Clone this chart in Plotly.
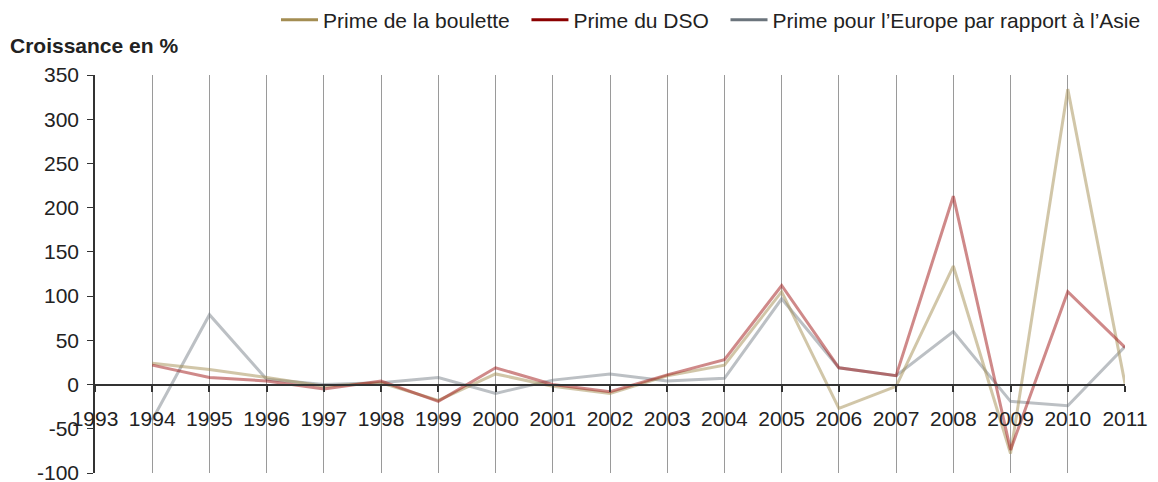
import plotly.graph_objects as go

years = list(range(1994, 2012))
boulette = [24, 17, 8, -2, 2, -18, 12, -2, -10, 10, 22, 105, -27, -2, 134, -78, 334, 1]
dso = [22, 8, 4, -5, 4, -19, 19, 0, -8, 11, 28, 112, 19, 10, 213, -74, 105, 42]
europe = [-40, 79, 6, 0, 2, 8, -10, 5, 12, 4, 7, 97, 19, 10, 60, -19, -24, 43]

names = ["Prime de la boulette", "Prime du DSO", "Prime pour l’Europe par rapport à l’Asie"]
solid = ["#a38d52", "#8b0000", "#6b747c"]
faded = ["rgba(163,141,82,0.5)", "rgba(160,20,20,0.5)", "rgba(107,116,124,0.45)"]

x_ticks = list(range(1993, 2012))
y_ticks = list(range(-100, 351, 50))
y_min, y_max = -100, 350

fig = go.Figure()
for idx in [2, 0, 1]:
    vals = [boulette, dso, europe][idx]
    fig.add_trace(go.Scatter(x=years, y=vals, mode="lines", showlegend=False,
                             line=dict(color=faded[idx], width=3)))
for idx in range(3):
    label = names[idx] + ("\u00a0\u00a0" if idx < 2 else "")
    fig.add_trace(go.Scatter(x=[None], y=[None], mode="lines", name=label,
                             line=dict(color=solid[idx], width=3)))

W, H = 1150, 474  # page body has an 8px margin
font = "Liberation Sans, Arial, sans-serif"
fig.update_layout(
    width=W, height=H,
    margin=dict(l=87, r=33, t=67, b=9, autoexpand=False),
    plot_bgcolor="white", paper_bgcolor="white",
    font=dict(family=font, size=21, color="#222"),
    title=dict(text="<b>Croissance en %</b>", xref="container", yref="container",
               x=2/W, y=1-38/H, xanchor="left", yanchor="middle",
               font=dict(family=font, size=21, color="#222")),
    legend=dict(orientation="h", xref="container", yref="container",
                x=268/W, y=1-12/H, xanchor="left", yanchor="middle",
                font=dict(family=font, size=21, color="#222"),
                itemwidth=37, tracegroupgap=0),
    xaxis=dict(range=[1993, 2011], tickvals=x_ticks, ticktext=[str(v) for v in x_ticks],
               showgrid=True, gridcolor="#9a9a9a", gridwidth=1,
               showline=True, linecolor="#333", linewidth=2,
               ticks="outside", ticklen=6, tickcolor="#333", tickwidth=2,
               anchor="free", position=(0 - y_min) / (y_max - y_min),
               zeroline=False, tickfont=dict(size=21), ticklabelstandoff=9,
               automargin=False),
    yaxis=dict(range=[y_min, y_max], tickvals=y_ticks, ticktext=[str(v) for v in y_ticks],
               showgrid=False,
               showline=True, linecolor="#333", linewidth=1.5,
               ticks="outside", ticklen=6, tickcolor="#333",
               zeroline=False, tickfont=dict(size=21), ticklabelstandoff=4,
               ticklabeloverflow="allow", automargin=False),
)

fig.write_html("out.html")
